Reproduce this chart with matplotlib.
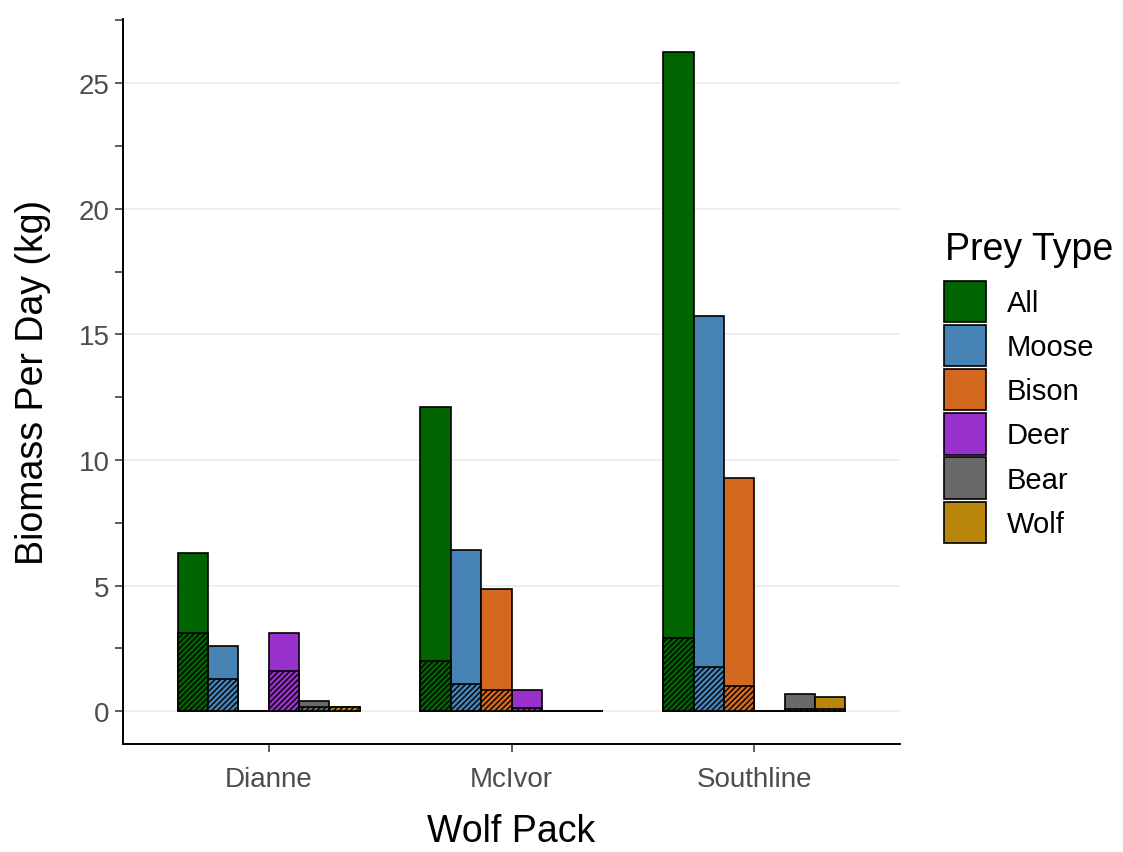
import numpy as np
import matplotlib.pyplot as plt
from matplotlib.patches import Patch
from matplotlib.ticker import MultipleLocator

plt.rcParams['font.family'] = ['Liberation Sans', 'DejaVu Sans']
plt.rcParams['hatch.linewidth'] = 1.0

packs = ['Dianne', 'McIvor', 'Southline']
prey = ['All', 'Moose', 'Bison', 'Deer', 'Bear', 'Wolf']
colors = ['#006400', '#4682B4', '#D2691E', '#9932CC', '#696969', '#B8860B']

# total biomass per day, one list per prey type (Dianne, McIvor, Southline)
total = {
    'All':   [6.3, 12.1, 26.25],
    'Moose': [2.6, 6.4, 15.75],
    'Bison': [0.0, 4.85, 9.3],
    'Deer':  [3.1, 0.85, 0.0],
    'Bear':  [0.4, 0.0, 0.7],
    'Wolf':  [0.15, 0.0, 0.55],
}
# hatched (lower) part
hatched = {
    'All':   [3.1, 2.0, 2.9],
    'Moose': [1.27, 1.07, 1.75],
    'Bison': [0.0, 0.83, 1.0],
    'Deer':  [1.6, 0.12, 0.0],
    'Bear':  [0.15, 0.0, 0.1],
    'Wolf':  [0.15, 0.0, 0.1],
}

fig = plt.figure(figsize=(11.23, 8.53), dpi=100)
ax = fig.add_axes([0.1095, 0.1266, 0.692, 0.85])

x = np.arange(1, len(packs) + 1)
dodge = 0.75
w = dodge / len(prey)
for i, (p, c) in enumerate(zip(prey, colors)):
    xs = x - dodge / 2 + w * (i + 0.5)
    ax.bar(xs, total[p], width=w, color=c, edgecolor='black', linewidth=1.2, zorder=3)
    ax.bar(xs, hatched[p], width=w, color=c, edgecolor='black', linewidth=1.2,
           hatch='//////', zorder=4)

ax.set_xlim(0.4, 3.6)
ax.set_ylim(-1.31, 27.56)
ax.set_xticks(x)
ax.set_xticklabels(packs)
ax.yaxis.set_major_locator(MultipleLocator(5))
ax.yaxis.set_minor_locator(MultipleLocator(2.5))
ax.grid(axis='y', which='major', color='#EBEBEB', linewidth=1.2, zorder=0)
ax.set_axisbelow(True)

for s in ['top', 'right']:
    ax.spines[s].set_visible(False)
for s in ['left', 'bottom']:
    ax.spines[s].set_linewidth(1.4)
ax.tick_params(which='both', length=6, width=1.1, color='#333333',
               labelsize=20, labelcolor='#4D4D4D')
ax.tick_params(axis='x', pad=10)

ax.set_xlabel('Wolf Pack', fontsize=27, labelpad=15)
ax.set_ylabel('Biomass Per Day (kg)', fontsize=27, labelpad=20)

# legend title drawn separately so the gap to the keys matches
fig.text(0.8415, 0.728, 'Prey Type', fontsize=27, ha='left', va='top')
handles = [Patch(facecolor=c, edgecolor='black', linewidth=1.2) for c in colors]
leg = fig.legend(handles, prey, loc='upper left',
                 bbox_to_anchor=(0.830, 0.6834), frameon=False, fontsize=21,
                 handlelength=1.45, handleheight=1.8,
                 labelspacing=0.1, handletextpad=0.7, borderaxespad=0)

fig.savefig('out.png', dpi=100)
